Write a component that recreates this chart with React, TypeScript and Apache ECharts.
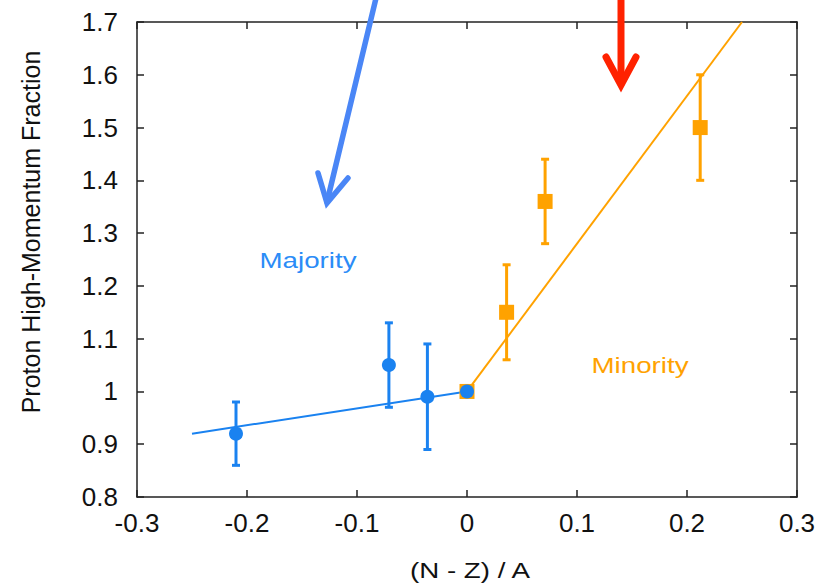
import React, { useEffect, useRef } from "react";
import * as echarts from "echarts";

const xTicks = [-0.3, 0.3, 0.1];
const yTicks = [0.8, 1.7, 0.1];

const majorityX = [-0.21, -0.071, -0.036, 0];
const majorityY = [0.92, 1.05, 0.99, 1.0];
const majorityLow = [0.86, 0.97, 0.89];
const majorityHigh = [0.98, 1.13, 1.09];

const minorityX = [0, 0.036, 0.071, 0.212];
const minorityY = [1.0, 1.15, 1.36, 1.5];
const minorityLow = [1.06, 1.28, 1.4];
const minorityHigh = [1.24, 1.44, 1.6];

const majorityFitX = [-0.25, 0];
const majorityFitY = [0.92, 1.0];
const minorityFitX = [0, 0.25];
const minorityFitY = [1.0, 1.7];

const BLUE = "#1a82f0";
const ORANGE = "#ffa200";
const FONT = "Liberation Sans";

function errorSeries(xs: number[], lows: number[], highs: number[], color: string) {
  const data = lows.map((l, i) => [xs[i], l, highs[i]]);
  return {
    type: "custom",
    z: 3,
    data,
    encode: { x: 0, y: [1, 2] },
    renderItem: (params: any, api: any) => {
      const x = api.value(0);
      const lo = api.coord([x, api.value(1)]);
      const hi = api.coord([x, api.value(2)]);
      const hw = 4;
      const style = { stroke: color, lineWidth: 3 };
      return {
        type: "group",
        children: [
          { type: "line", shape: { x1: lo[0], y1: lo[1], x2: hi[0], y2: hi[1] }, style },
          { type: "line", shape: { x1: lo[0] - hw, y1: lo[1], x2: lo[0] + hw, y2: lo[1] }, style },
          { type: "line", shape: { x1: hi[0] - hw, y1: hi[1], x2: hi[0] + hw, y2: hi[1] }, style },
        ],
      };
    },
  };
}

export default function App() {
  const ref = useRef<HTMLDivElement>(null);
  useEffect(() => {
    const chart = echarts.init(ref.current!, null, { renderer: "svg" });
    const axisLine = { show: true, onZero: false, lineStyle: { color: "#222", width: 1.5 } };
    const tick = { show: true, inside: true, length: 7, lineStyle: { color: "#222", width: 1.5 } };
    const labelStyle = { color: "#111", fontFamily: FONT, fontSize: 26 };
    chart.setOption({
      animation: false,
      grid: { left: 137, top: 22, width: 660, height: 475 },
      xAxis: [
        {
          type: "value", min: xTicks[0], max: xTicks[1], interval: xTicks[2],
          axisLine, axisTick: tick, splitLine: { show: false },
          axisLabel: { ...labelStyle, margin: 13, formatter: (v: number) => String(Math.round(v * 10) / 10) },
        },
        {
          type: "value", position: "top", min: xTicks[0], max: xTicks[1], interval: xTicks[2],
          axisLine, axisTick: tick, axisLabel: { show: false }, splitLine: { show: false },
        },
      ],
      yAxis: [
        {
          type: "value", position: "left", min: yTicks[0], max: yTicks[1], interval: yTicks[2],
          axisLine, axisTick: tick, splitLine: { show: false },
          axisLabel: { ...labelStyle, margin: 19, formatter: (v: number) => String(Math.round(v * 10) / 10) },
        },
        {
          type: "value", position: "right", min: yTicks[0], max: yTicks[1], interval: yTicks[2],
          axisLine, axisTick: tick, axisLabel: { show: false }, splitLine: { show: false },
        },
      ],
      series: [
        {
          type: "line", data: majorityFitX.map((x, i) => [x, majorityFitY[i]]),
          showSymbol: false, symbol: "none", lineStyle: { color: BLUE, width: 2 }, z: 2,
        },
        {
          type: "line", data: minorityFitX.map((x, i) => [x, minorityFitY[i]]),
          showSymbol: false, symbol: "none", lineStyle: { color: ORANGE, width: 2 }, z: 2,
        },
        errorSeries(minorityX.slice(1), minorityLow, minorityHigh, ORANGE),
        errorSeries(majorityX.slice(0, 3), majorityLow, majorityHigh, BLUE),
        {
          type: "scatter", data: minorityX.map((x, i) => [x, minorityY[i]]),
          symbol: "rect", symbolSize: 15, itemStyle: { color: ORANGE, opacity: 1 }, z: 4,
        },
        {
          type: "scatter", data: majorityX.map((x, i) => [x, majorityY[i]]),
          symbol: "circle", symbolSize: 14, itemStyle: { color: BLUE, opacity: 1 }, z: 5,
        },
      ],
      graphic: [
        {
          type: "text", x: 308, y: 260, scaleX: 1.26, z: 10,
          style: { text: "Majority", fill: "#2b8cf7", font: `22px "${FONT}"`, align: "center", verticalAlign: "middle" },
        },
        {
          type: "text", x: 640, y: 365, scaleX: 1.26, z: 10,
          style: { text: "Minority", fill: ORANGE, font: `22px "${FONT}"`, align: "center", verticalAlign: "middle" },
        },
        {
          type: "text", x: 470, y: 570, scaleX: 1.26, z: 10,
          style: { text: "(N - Z) / A", fill: "#111", font: `22px "${FONT}"`, align: "center", verticalAlign: "middle" },
        },
        {
          type: "text", x: 31, y: 232, rotation: Math.PI / 2, z: 10,
          style: { text: "Proton High-Momentum Fraction", fill: "#111", font: `25px "${FONT}"`, align: "center", verticalAlign: "middle" },
        },
        {
          type: "line", z: 20,
          shape: { x1: 377, y1: -6, x2: 327, y2: 202 },
          style: { stroke: "#4a86f6", lineWidth: 5.5, lineCap: "round" },
        },
        {
          type: "polyline", z: 20,
          shape: { points: [[318, 173], [327, 203], [348, 178]] },
          style: { stroke: "#4a86f6", lineWidth: 5.5, lineCap: "round", lineJoin: "miter", fill: "none" },
        },
        {
          type: "line", z: 20,
          shape: { x1: 621, y1: -6, x2: 621, y2: 84 },
          style: { stroke: "#ff2200", lineWidth: 7 },
        },
        {
          type: "polyline", z: 20,
          shape: { points: [[606, 57], [621, 85], [636, 57]] },
          style: { stroke: "#ff2200", lineWidth: 7, lineCap: "round", lineJoin: "miter", fill: "none" },
        },
      ],
    });
    return () => chart.dispose();
  }, []);
  return <div ref={ref} style={{ position: "fixed", left: 0, top: 0, width: 823, height: 586, background: "#fff" }} />;
}
